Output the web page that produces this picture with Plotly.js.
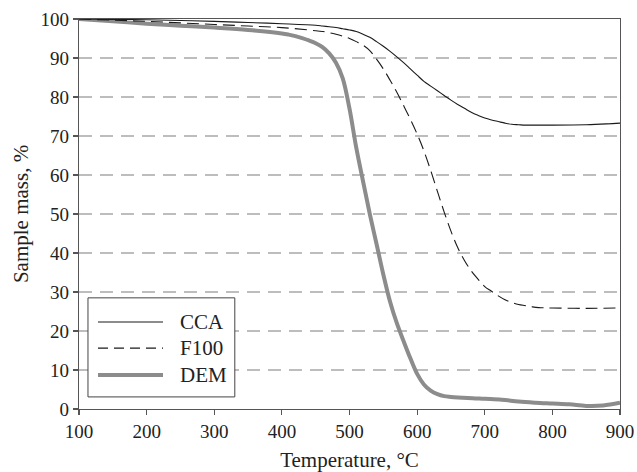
<!DOCTYPE html>
<html>
<head>
<meta charset="utf-8">
<script src="https://cdn.plot.ly/plotly-3.0.1.min.js"></script>
<style>html,body{margin:0;padding:0;background:#fff;}#chart{width:637px;height:472px;}</style>
</head>
<body>
<div id="chart"></div>
<script>
// Series names
const seriesNames = ["CCA", "F100", "DEM"];

// CCA
const ccaTemp = [100, 150, 200, 250, 300, 350, 400, 450, 460, 470, 480, 490, 500, 510, 520, 530, 540, 550, 560, 570, 580, 590, 600, 610, 620, 630, 640, 650, 660, 670, 680, 690, 700, 710, 720, 730, 740, 750, 760, 780, 800, 850, 880, 900];
const ccaMass = [100, 99.9, 99.8, 99.6, 99.4, 99.1, 98.8, 98.4, 98.2, 98.0, 97.8, 97.5, 97.2, 96.8, 96.1, 95.3, 94.2, 93.0, 91.7, 90.3, 88.8, 87.2, 85.6, 84.0, 82.8, 81.6, 80.4, 79.2, 78.1, 77.1, 76.1, 75.3, 74.6, 74.1, 73.7, 73.3, 73.0, 72.9, 72.8, 72.8, 72.8, 72.9, 73.1, 73.3];

// F100
const f100Temp = [100, 150, 200, 250, 300, 350, 400, 450, 460, 470, 480, 490, 500, 510, 520, 530, 540, 550, 560, 570, 580, 590, 600, 610, 620, 630, 640, 650, 660, 670, 680, 690, 700, 710, 720, 730, 740, 750, 760, 770, 780, 800, 850, 900];
const f100Mass = [100, 99.7, 99.4, 99.0, 98.6, 98.2, 97.8, 97.0, 96.8, 96.5, 96.1, 95.6, 95.0, 94.2, 93.3, 91.9, 89.7, 87.2, 84.3, 81.2, 77.8, 74.3, 70.5, 66.2, 61.2, 55.8, 50.5, 45.6, 41.4, 38.1, 35.4, 33.3, 31.4, 30.2, 29.0, 28.0, 27.3, 26.8, 26.5, 26.2, 26.0, 25.9, 25.8, 25.9];

// DEM
const demTemp = [100, 150, 200, 250, 300, 350, 400, 410, 420, 430, 440, 450, 460, 470, 480, 490, 500, 510, 520, 530, 540, 550, 560, 570, 580, 590, 600, 610, 620, 630, 640, 650, 675, 700, 725, 750, 775, 800, 825, 850, 875, 900];
const demMass = [100, 99.4, 98.8, 98.3, 97.8, 97.2, 96.3, 96.0, 95.6, 95.1, 94.5, 93.8, 92.8, 91.2, 88.8, 84.8, 77.0, 67.0, 58.4, 50.0, 42.3, 34.5, 27.5, 22.0, 17.4, 13.0, 9.0, 6.3, 4.7, 3.8, 3.3, 3.1, 2.8, 2.6, 2.4, 1.9, 1.6, 1.4, 1.2, 0.8, 0.9, 1.6];

// Axis ticks
const xTicks = [100, 200, 300, 400, 500, 600, 700, 800, 900];
const yTicks = [0, 10, 20, 30, 40, 50, 60, 70, 80, 90, 100];

const serif = "Liberation Serif, Times New Roman, serif";
const styles = [
  {color: "#1a1a1a", width: 1.1, dash: "solid"},
  {color: "#1a1a1a", width: 1.1, dash: "12px,6px"},
  {color: "#8c8c8c", width: 4, dash: "solid"}
];

const traces = seriesNames.map((n, i) => ({
  x: [ccaTemp, f100Temp, demTemp][i],
  y: [ccaMass, f100Mass, demMass][i],
  name: n, type: "scatter", mode: "lines", showlegend: false,
  line: {color: styles[i].color, width: styles[i].width, dash: styles[i].dash, shape: "spline", smoothing: 1}
}));
// DEM drawn first (under the black lines)
const data = [traces[2], traces[1], traces[0]];

// Custom legend box (paper coords)
const legRows = [0.223, 0.156, 0.087];
const shapes = [
  {type: "rect", xref: "paper", yref: "paper", x0: 0.0166, x1: 0.288, y0: 0.031, y1: 0.285,
   line: {color: "#444", width: 1}, fillcolor: "#ffffff", layer: "above"}
];
const annotations = [];
seriesNames.forEach((n, i) => {
  shapes.push({type: "line", xref: "paper", yref: "paper", x0: 0.0351, x1: 0.1553, y0: legRows[i], y1: legRows[i],
    line: {color: styles[i].color, width: styles[i].width, dash: i === 1 ? "10px,6px" : "solid"}, layer: "above"});
  annotations.push({xref: "paper", yref: "paper", x: 0.183, y: legRows[i], xanchor: "left", yanchor: "middle",
    text: n, showarrow: false, font: {family: serif, size: 21, color: "#222"}});
});

const layout = {
  width: 637, height: 472,
  margin: {l: 79, r: 17, t: 19, b: 63},
  paper_bgcolor: "#ffffff", plot_bgcolor: "#ffffff",
  font: {family: serif, size: 19, color: "#222"},
  showlegend: false,
  xaxis: {
    range: [100, 900], tickvals: xTicks, ticktext: xTicks.map(String),
    showgrid: false, zeroline: false,
    showline: true, linecolor: "#555", linewidth: 1.3, mirror: true,
    ticks: "outside", ticklen: 5, tickcolor: "#555", tickwidth: 1.2,
    tickfont: {family: serif, size: 19, color: "#222"},
    title: {text: "Temperature, °C", font: {family: serif, size: 21, color: "#222"}, standoff: 12},
    automargin: false
  },
  yaxis: {
    range: [0, 100], tickvals: yTicks, ticktext: yTicks.map(String),
    showgrid: true, gridcolor: "#bdbdbd", gridwidth: 1.4, griddash: "13px,8px",
    zeroline: false,
    showline: true, linecolor: "#555", linewidth: 1.3, mirror: true,
    ticks: "outside", ticklen: 5, tickcolor: "#555", tickwidth: 1.2,
    tickfont: {family: serif, size: 19, color: "#222"},
    title: {text: "Sample mass, %", font: {family: serif, size: 21, color: "#222"}, standoff: 6},
    automargin: false
  },
  shapes: shapes,
  annotations: annotations
};

Plotly.newPlot("chart", data, layout, {staticPlot: true, displayModeBar: false});
</script>
</body>
</html>
